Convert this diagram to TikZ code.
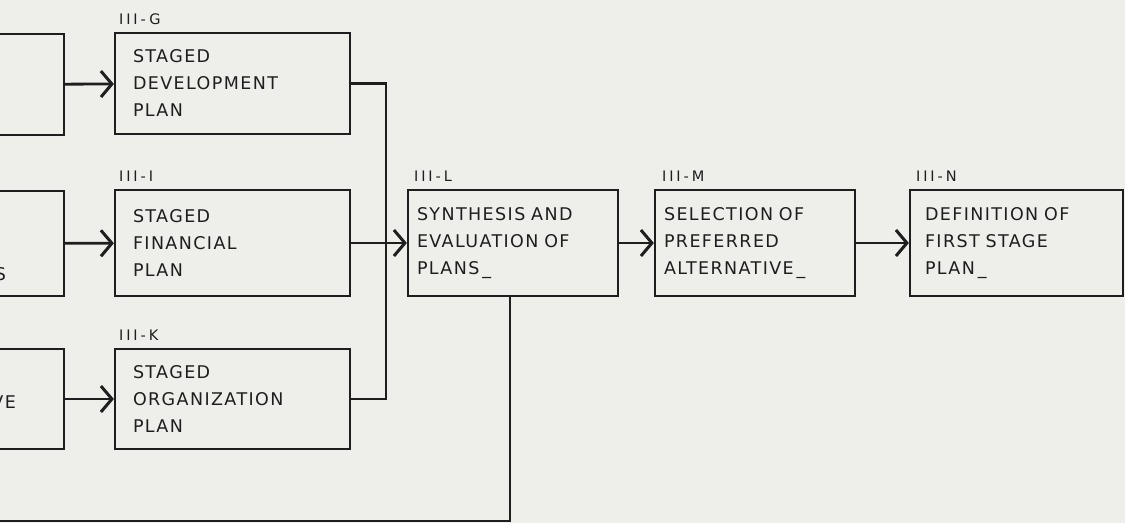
\documentclass[tikz,border=0pt]{standalone}
\usepackage{fontspec}
\usetikzlibrary{arrows.meta,positioning}
\newfontfamily\letterfont[LetterSpace=8]{DejaVu Sans}
\newfontfamily\tagfont[LetterSpace=20]{DejaVu Sans}
\newcommand\widewords{\spaceskip=13pt plus 2pt\relax}
\definecolor{paper}{RGB}{238,238,235}
\definecolor{ink}{RGB}{30,30,30}
\tikzset{
  planbox/.style={draw=ink, line width=2.2pt, rectangle, align=left,
    font=\letterfont\fontsize{17.5}{27}\selectfont\widewords, text=ink},
  widebox/.style={planbox, minimum width=235pt, text width=199pt, inner xsep=18pt},
  stepbox/.style={planbox, inner xsep=9pt},
  tagtext/.style={font=\tagfont\fontsize{14.5}{16}\selectfont, text=ink, inner sep=0pt},
  flow/.style={draw=ink, line width=2.8pt},
  feed/.style={flow, -{Straight Barb[length=11pt,width=26pt,line width=3pt]}}
}
\begin{document}
\begin{tikzpicture}[x=1pt,y=-1pt]
\fill[paper] (0,0) rectangle (1125,523);
\clip (0,0) rectangle (1125,523);
% partly visible boxes at the left edge
\node[planbox, minimum width=164pt, minimum height=101pt] (a1) at (-18,84.5) {};
\node[planbox, minimum width=164pt, minimum height=105pt] (a2) at (-18,243.5) {};
\node[planbox, minimum width=164pt, minimum height=100pt] (a3) at (-18,399) {};
\node[planbox, draw=none, anchor=base east, inner sep=0pt] (a2txt) at (7,280) {S};
\node[planbox, draw=none, anchor=base east, inner sep=0pt] (a3txt) at (17,408) {VE};
% staged plans
\node[widebox, minimum height=101pt] (g) at (232.5,83.5) {STAGED\\DEVELOPMENT\\PLAN};
\node[widebox, minimum height=106pt] (i) at (232.5,243) {STAGED\\FINANCIAL\\PLAN};
\node[widebox, minimum height=100pt] (k) at (232.5,399) {STAGED\\ORGANIZATION\\PLAN};
% evaluation chain
\node[stepbox, minimum width=210pt, text width=192pt, minimum height=106pt] (l) at (513,243) {SYNTHESIS AND\\EVALUATION OF\\PLANS\,\_};
\node[stepbox, minimum width=200pt, text width=182pt, minimum height=106pt] (m) at (755,243) {SELECTION OF\\PREFERRED\\ALTERNATIVE\,\_};
\node[stepbox, minimum width=213pt, text width=183pt, inner xsep=15pt, minimum height=106pt] (n) at (1016.5,243) {DEFINITION OF\\FIRST STAGE\\PLAN\,\_};
% tags
\node[tagtext, above right=7pt and 5pt of g.north west, anchor=south west] (gtag) {III-G};
\node[tagtext, above right=7pt and 5pt of i.north west, anchor=south west] (itag) {III-I};
\node[tagtext, above right=7pt and 5pt of k.north west, anchor=south west] (ktag) {III-K};
\node[tagtext, above right=7pt and 7pt of l.north west, anchor=south west] (ltag) {III-L};
\node[tagtext, above right=7pt and 8pt of m.north west, anchor=south west] (mtag) {III-M};
\node[tagtext, above right=7pt and 7pt of n.north west, anchor=south west] (ntag) {III-N};
% connectors
\coordinate (join) at (386,243);
\coordinate (loopend) at (-10,521);
\draw[feed] (a1) -- (g);
\draw[feed] (a2) -- (i);
\draw[feed] (a3) -- (k);
\draw[flow] (g.east) -| (join) |- (k.east);
\draw[feed] (i) -- (l);
\draw[feed] (l) -- (m);
\draw[feed] (m) -- (n);
\draw[flow] ([xshift=-3pt]l.south) |- (loopend);
\end{tikzpicture}
\end{document}
